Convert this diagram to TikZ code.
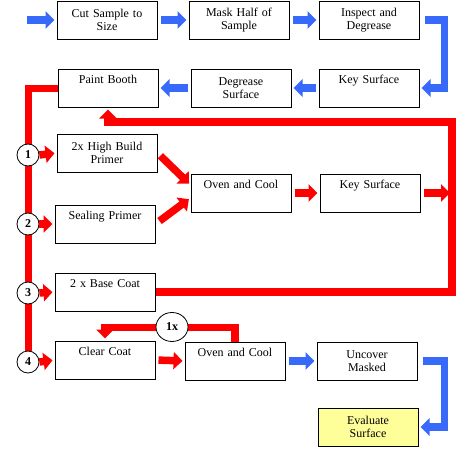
\documentclass[tikz,border=0pt]{standalone}
\usepackage{fontspec}
\setmainfont{Liberation Serif}
\definecolor{flowblue}{RGB}{55,105,250}
\definecolor{flowred}{RGB}{255,0,0}
\definecolor{flowyellow}{RGB}{255,255,153}
\usetikzlibrary{arrows.meta,positioning,shapes.geometric}

\begin{document}
\begin{tikzpicture}[x=1pt, y=-1pt,
  pbox/.style={rectangle, draw=black, line width=1pt, fill=white,
               minimum width=100pt, minimum height=38pt, text width=96pt,
               inner sep=2pt, align=center, font=\fontsize{12}{13.5}\selectfont},
  ybox/.style={pbox, fill=flowyellow},
  numc/.style={circle, draw=black, line width=0.8pt, fill=white, minimum size=22pt,
               inner sep=0pt, font=\fontsize{12}{13}\selectfont\bfseries},
  barr/.style={-{Triangle[length=9pt,width=17pt]}, line width=7.5pt, draw=flowblue,
               shorten <=3pt, shorten >=2pt},
  rarr/.style={-{Triangle[length=9pt,width=17pt]}, line width=7.5pt, draw=flowred,
               shorten <=3pt, shorten >=2pt},
  rline/.style={line width=7pt, draw=flowred}
]
\useasboundingbox (0,0) rectangle (474,455);

% Preparation row
\node[pbox] (cut)  at (107,20) {Cut Sample to\\Size};
\node[pbox] (mask) at (239,20) {Mask Half of\\Sample};
\node[pbox] (insp) at (369,20) {Inspect and\\Degrease};

\node[pbox] (paint) at (108,88) {Paint Booth\\\strut};
\node[pbox] (degr)  at (241,88) {Degrease\\Surface};
\node[pbox] (key)   at (369,88) {Key Surface\\\strut};

% Paint steps
\node[pbox] (hbp)    at (107,153) {2x High Build\\Primer};
\node[pbox] (seal)   at (105,224) {Sealing Primer\\\strut};
\node[pbox] (oven)   at (241,193) {Oven and Cool\\\strut};
\node[pbox] (keyb)   at (370,193) {Key Surface\\\strut};
\node[pbox] (base)   at (105,292) {2 x Base Coat\\\strut};
\node[pbox] (clear)  at (105,360) {Clear Coat\\\strut};
\node[pbox] (ovenb)  at (235,361) {Oven and Cool\\\strut};
\node[pbox] (uncov)  at (367,361) {Uncover\\Masked};
\node[ybox] (eval)   at (368,427) {Evaluate\\Surface};

\coordinate (start)  at (27,20);
\coordinate (loopse) at (452,292);
\coordinate (loopne) at (452,122);
\coordinate (leftend) at (28,362);

% Red loops
\draw[rarr, shorten <=0pt] (base.east) -- (loopse) -- (loopne) -| (paint.south);
\draw[rarr, shorten <=0pt] (ovenb.north) -- ++(0,-14) -| (clear.north);
\draw[rline] (paint.west) -| (leftend);

% Number markers
\node[numc] (c1) at (28,155) {1};
\node[numc] (c2) at (28,224) {2};
\node[numc] (c3) at (28,293) {3};
\node[numc] (c4) at (leftend) {4};
\node[ellipse, draw=black, line width=0.8pt, fill=white, minimum width=32pt,
      minimum height=29pt, inner sep=0pt, font=\fontsize{12}{13}\selectfont\bfseries]
      (once) at (172,327) {1x};

% Blue arrows
\draw[barr, shorten <=0pt] (start) -- (cut.west);
\draw[barr] (cut.east) -- (mask.west);
\draw[barr] (mask.east) -- (insp.west);
\draw[barr, shorten <=5pt] (insp.east) -- ++(25,0) |- (key.east);
\draw[barr] (key.west) -- (degr.east);
\draw[barr] (degr.west) -- (paint.east);
\draw[barr] (ovenb.east) -- (uncov.west);
\draw[barr, shorten <=5pt] (uncov.east) -- ++(27,0) |- (eval.east);

% Red arrows
\draw[rarr, shorten <=0pt] (c1.east) -- (hbp.west);
\draw[rarr, shorten <=0pt] (c2.east) -- (seal.west);
\draw[rarr, shorten <=0pt] (c3.east) -- (base.west);
\draw[rarr, shorten <=0pt] (c4.east) -- (clear.west);
\draw[rarr, shorten <=4pt] (hbp.east) -- ([yshift=8pt]oven.west);
\draw[rarr, shorten <=5pt] (seal.east) -- ([yshift=-5pt]oven.west);
\draw[rarr] (oven.east) -- (keyb.west);
\draw[rarr] (keyb.east) -- (keyb.east -| loopne);
\draw[rarr] (clear.east) -- (ovenb.west);
\end{tikzpicture}
\end{document}
